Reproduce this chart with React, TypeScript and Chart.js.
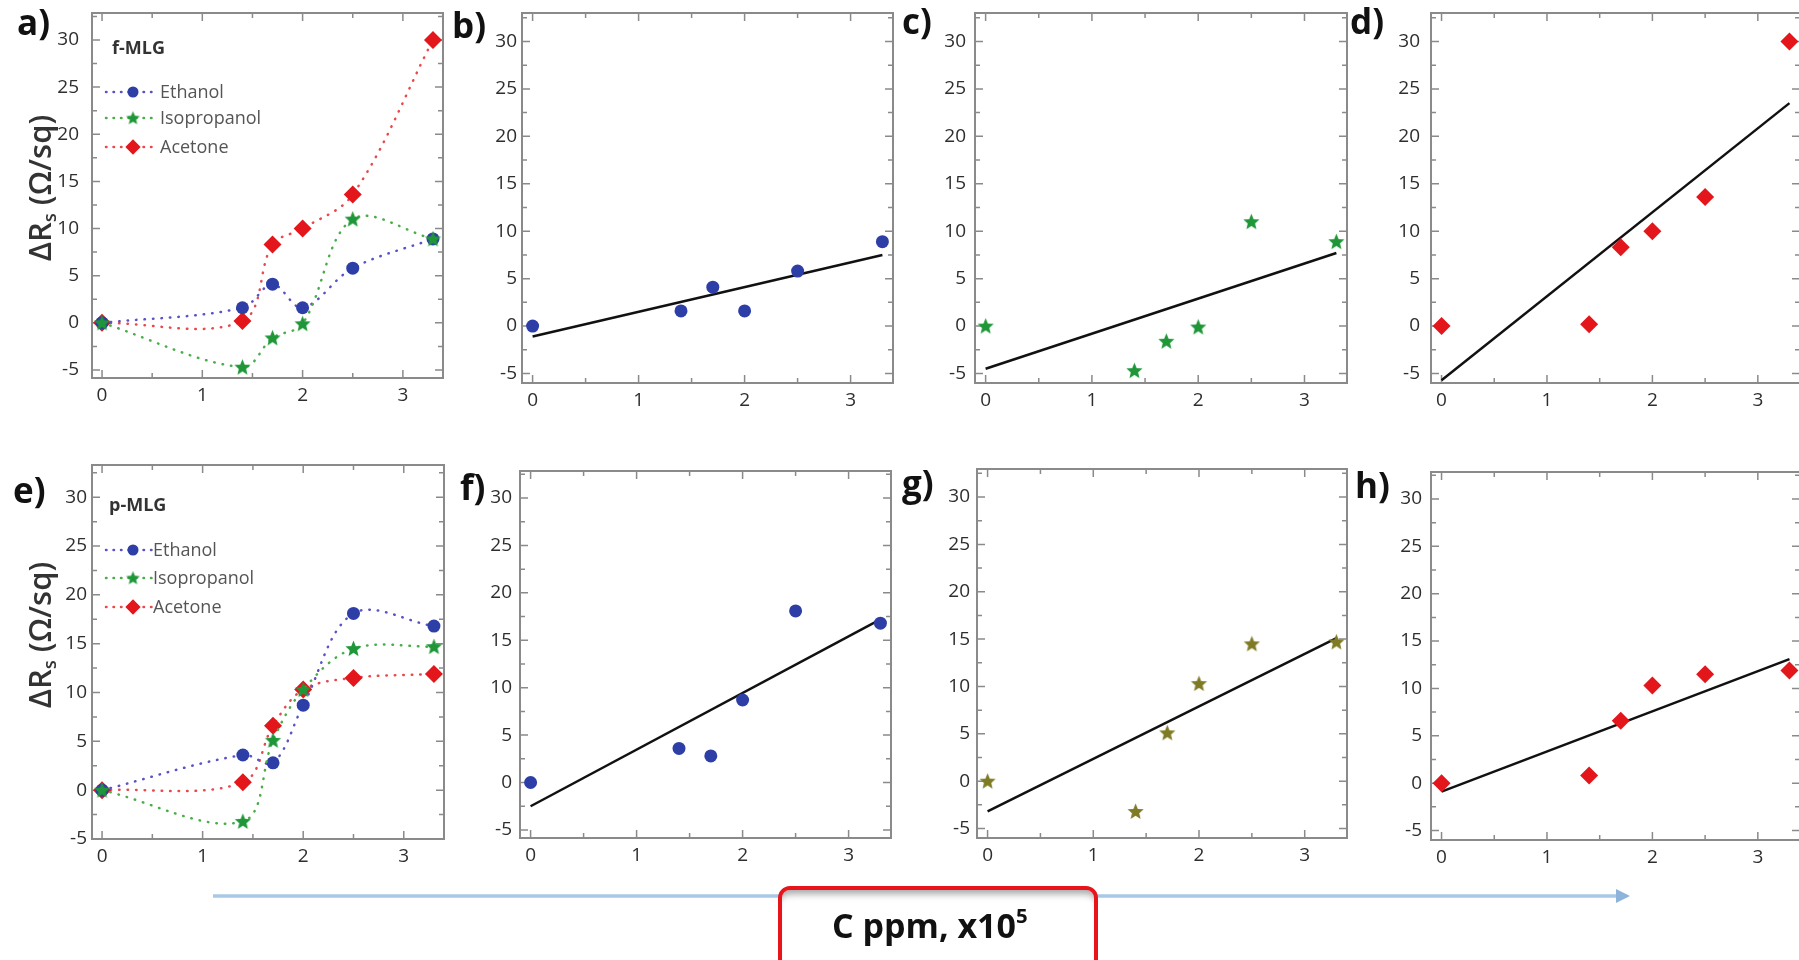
import React, { useEffect, useRef } from "react";
import { Chart, registerables } from "chart.js";

Chart.register(...registerables);
Chart.defaults.font.family = "'Open Sans', 'DejaVu Sans', sans-serif";
Chart.defaults.color = "#333";

// Concentration, C ppm x10^5
const CONCENTRATION = [0, 1.4, 1.7, 2.0, 2.5, 3.3];

// f-MLG, ΔRs (Ω/sq)
const F_MLG_ETHANOL = [0, 1.6, 4.1, 1.6, 5.8, 8.9];
const F_MLG_ISOPROPANOL = [0, -4.7, -1.6, -0.1, 11.0, 8.9];
const F_MLG_ACETONE = [0, 0.2, 8.3, 10.0, 13.6, 30.0];

// p-MLG, ΔRs (Ω/sq)
const P_MLG_ETHANOL = [0, 3.6, 2.8, 8.7, 18.1, 16.8];
const P_MLG_ISOPROPANOL = [0, -3.2, 5.1, 10.3, 14.5, 14.7];
const P_MLG_ACETONE = [0, 0.8, 6.6, 10.3, 11.5, 11.9];

// Linear fit lines (end points at FIT_X)
const FIT_X = [0, 3.3];
const FIT_B = [-1.1, 7.5];
const FIT_C = [-4.5, 7.7];
const FIT_D = [-5.7, 23.5];
const FIT_F = [-2.5, 17.2];
const FIT_G = [-3.2, 15.1];
const FIT_H = [-0.9, 13.1];

const X_TICKS = [0, 1, 2, 3];
const Y_TICKS = [-5, 0, 5, 10, 15, 20, 25, 30];
const SERIES_NAMES = ["Ethanol", "Isopropanol", "Acetone"];
const X_RANGE = [-0.1, 3.4];

// ---------- styling ----------
const Y_AXIS_W = 70;
const X_AXIS_H = 40;
const PAD_T = 20;
const PAD_R = 20;
const TICK_FONT = { size: 19 };

type Style = { kind: "circle" | "star" | "diamond"; color: string; line: string; size: number };
const STYLES: Record<string, Style> = {
  eth: { kind: "circle", color: "#2d3fa6", line: "#5b52c9", size: 6.5 },
  iso: { kind: "star", color: "#1f9638", line: "#4aad4a", size: 8.5 },
  ace: { kind: "diamond", color: "#e3161c", line: "#e8494d", size: 9 },
  olive: { kind: "star", color: "#7f7b25", line: "#7f7b25", size: 8.5 },
};

const starCache: Record<string, HTMLCanvasElement> = {};
function starCanvas(color: string, outer: number): HTMLCanvasElement {
  const key = color + outer;
  if (starCache[key]) return starCache[key];
  const size = Math.ceil(outer * 2 + 2);
  const c = document.createElement("canvas");
  c.width = size;
  c.height = size;
  const ctx = c.getContext("2d")!;
  ctx.fillStyle = color;
  ctx.beginPath();
  for (let i = 0; i < 10; i++) {
    const r = i % 2 === 0 ? outer : outer * 0.45;
    const a = -Math.PI / 2 + (i * Math.PI) / 5;
    const x = size / 2 + r * Math.cos(a);
    const y = size / 2 + r * Math.sin(a) + 0.5;
    if (i === 0) ctx.moveTo(x, y);
    else ctx.lineTo(x, y);
  }
  ctx.closePath();
  ctx.fill();
  starCache[key] = c;
  return c;
}

function pointProps(s: Style) {
  if (s.kind === "star") {
    return { pointStyle: starCanvas(s.color, s.size), pointRadius: s.size };
  }
  return { pointStyle: s.kind === "circle" ? "circle" : "rectRot", pointRadius: s.size };
}

function drawMarker(ctx: CanvasRenderingContext2D, s: Style, x: number, y: number) {
  ctx.fillStyle = s.color;
  if (s.kind === "circle") {
    ctx.beginPath();
    ctx.arc(x, y, s.size, 0, Math.PI * 2);
    ctx.fill();
  } else if (s.kind === "diamond") {
    ctx.beginPath();
    ctx.moveTo(x, y - s.size);
    ctx.lineTo(x + s.size, y);
    ctx.lineTo(x, y + s.size);
    ctx.lineTo(x - s.size, y);
    ctx.closePath();
    ctx.fill();
  } else {
    const img = starCanvas(s.color, s.size);
    ctx.drawImage(img, x - img.width / 2, y - img.height / 2);
  }
}

type Legend = { title: string; rows: number[]; titleX: number; textX: number };
type Panel = {
  letter: string;
  labelPos: [number, number];
  area: { l: number; t: number; r: number; b: number };
  yRange: [number, number];
  tickPad: number;
  multi?: { series: number[][]; legend: Legend };
  points?: number[];
  style?: string;
  fit?: number[];
};

const PANELS: Panel[] = [
  {
    letter: "a)", labelPos: [17, 35], area: { l: 92, t: 13, r: 443, b: 378 }, yRange: [-5.85, 32.86], tickPad: 13,
    multi: { series: [F_MLG_ETHANOL, F_MLG_ISOPROPANOL, F_MLG_ACETONE], legend: { title: "f-MLG", rows: [36, 79, 105, 134], titleX: 20, textX: 68 } },
  },
  { letter: "b)", labelPos: [452, 38], area: { l: 522, t: 13, r: 893, b: 383 }, yRange: [-6, 33], tickPad: 5, points: F_MLG_ETHANOL, style: "eth", fit: FIT_B },
  { letter: "c)", labelPos: [902, 34], area: { l: 975, t: 13, r: 1347, b: 383 }, yRange: [-6, 33], tickPad: 9, points: F_MLG_ISOPROPANOL, style: "iso", fit: FIT_C },
  { letter: "d)", labelPos: [1350, 34], area: { l: 1431, t: 13, r: 1800, b: 383 }, yRange: [-6, 33], tickPad: 11, points: F_MLG_ACETONE, style: "ace", fit: FIT_D },
  {
    letter: "e)", labelPos: [13, 503], area: { l: 92, t: 465, r: 444, b: 839 }, yRange: [-5, 33.3], tickPad: 5,
    multi: { series: [P_MLG_ETHANOL, P_MLG_ISOPROPANOL, P_MLG_ACETONE], legend: { title: "p-MLG", rows: [41, 85, 113, 142], titleX: 17, textX: 61 } },
  },
  { letter: "f)", labelPos: [460, 500], area: { l: 520, t: 471, r: 891, b: 838 }, yRange: [-5.85, 32.85], tickPad: 8, points: P_MLG_ETHANOL, style: "eth", fit: FIT_F },
  { letter: "g)", labelPos: [902, 496], area: { l: 977, t: 469, r: 1347, b: 838 }, yRange: [-6, 32.96], tickPad: 7, points: P_MLG_ISOPROPANOL, style: "olive", fit: FIT_G },
  { letter: "h)", labelPos: [1355, 498], area: { l: 1431, t: 472, r: 1800, b: 840 }, yRange: [-6, 32.85], tickPad: 9, points: P_MLG_ACETONE, style: "ace", fit: FIT_H },
];

const framePlugin = {
  id: "frame",
  beforeDatasetsDraw(chart: any) {
    const { ctx, chartArea, scales } = chart;
    const { left, right, top, bottom } = chartArea;
    const x = scales.x;
    const y = scales.y;
    ctx.save();
    ctx.strokeStyle = "#8a8a8a";
    ctx.lineWidth = 2;
    ctx.strokeRect(left, top, right - left, bottom - top);
    ctx.lineWidth = 1.5;
    ctx.beginPath();
    const xs: [number, number][] = [];
    X_TICKS.forEach((v) => {
      xs.push([v, 8]);
      xs.push([v + 0.5, 5]);
    });
    xs.forEach(([v, len]) => {
      if (v < x.min || v > x.max) return;
      const px = x.getPixelForValue(v);
      ctx.moveTo(px, bottom);
      ctx.lineTo(px, bottom - len);
      ctx.moveTo(px, top);
      ctx.lineTo(px, top + len);
    });
    const ys: [number, number][] = [];
    Y_TICKS.forEach((v) => {
      ys.push([v, 8]);
      ys.push([v + 2.5, 5]);
      ys.push([v - 2.5, 5]);
    });
    ys.forEach(([v, len]) => {
      if (v < y.min || v > y.max) return;
      const py = y.getPixelForValue(v);
      ctx.moveTo(left, py);
      ctx.lineTo(left + len, py);
      ctx.moveTo(right, py);
      ctx.lineTo(right - len, py);
    });
    ctx.stroke();
    ctx.restore();
  },
};

function legendPlugin(legend: Legend, styles: Style[]) {
  return {
    id: "customLegend",
    afterDatasetsDraw(chart: any) {
      const { ctx, chartArea } = chart;
      const { left, top } = chartArea;
      ctx.save();
      ctx.textBaseline = "middle";
      ctx.textAlign = "left";
      ctx.font = "bold 18px 'Open Sans'";
      ctx.fillStyle = "#333";
      ctx.fillText(legend.title, left + legend.titleX, top + legend.rows[0]);
      SERIES_NAMES.forEach((name, i) => {
        const s = styles[i];
        const yy = top + legend.rows[i + 1];
        ctx.strokeStyle = s.line;
        ctx.lineWidth = 2.5;
        ctx.lineCap = "round";
        ctx.setLineDash([0.5, 7]);
        ctx.beginPath();
        ctx.moveTo(left + 14, yy);
        ctx.lineTo(left + 60, yy);
        ctx.stroke();
        ctx.setLineDash([]);
        drawMarker(ctx, { ...s, size: s.size * 0.85 }, left + 41, yy);
        ctx.font = "18px 'Open Sans'";
        ctx.fillStyle = "#555";
        ctx.fillText(name, left + legend.textX, yy + 1);
      });
      ctx.restore();
    },
  };
}

function buildConfig(p: Panel): any {
  const datasets: any[] = [];
  const plugins: any[] = [framePlugin];
  if (p.multi) {
    const styles = [STYLES.eth, STYLES.iso, STYLES.ace];
    const orders = [1, 0, 2];
    p.multi.series.forEach((vals, i) => {
      const s = styles[i];
      datasets.push({
        label: SERIES_NAMES[i],
        data: CONCENTRATION.map((x, k) => ({ x, y: vals[k] })),
        showLine: true,
        borderColor: s.line,
        borderWidth: 2.5,
        borderDash: [0.5, 8],
        borderCapStyle: "round",
        tension: 0.35,
        backgroundColor: s.color,
        pointBackgroundColor: s.color,
        pointBorderColor: s.color,
        pointBorderWidth: 0,
        ...pointProps(s),
        order: orders[i],
        clip: false,
      });
    });
    plugins.push(legendPlugin(p.multi.legend, styles));
  } else if (p.points && p.fit && p.style) {
    const s = STYLES[p.style];
    datasets.push({
      label: "points",
      data: CONCENTRATION.map((x, k) => ({ x, y: p.points![k] })),
      showLine: false,
      backgroundColor: s.color,
      pointBackgroundColor: s.color,
      pointBorderColor: s.color,
      pointBorderWidth: 0,
      ...pointProps(s),
      order: 0,
      clip: false,
    });
    datasets.push({
      label: "fit",
      data: FIT_X.map((x, k) => ({ x, y: p.fit![k] })),
      showLine: true,
      borderColor: "#111",
      borderWidth: 2.5,
      pointRadius: 0,
      order: 1,
      clip: false,
    });
  }
  return {
    type: "scatter",
    data: { datasets },
    plugins,
    options: {
      responsive: false,
      animation: false,
      events: [],
      layout: { padding: { top: PAD_T, right: PAD_R, left: 0, bottom: 0 } },
      plugins: { legend: { display: false }, tooltip: { enabled: false } },
      scales: {
        x: {
          type: "linear",
          min: X_RANGE[0],
          max: X_RANGE[1],
          grid: { display: false, drawTicks: false },
          border: { display: false },
          ticks: { font: TICK_FONT, color: "#2e2e2e", padding: 6, autoSkip: false, maxRotation: 0 },
          afterBuildTicks: (s: any) => {
            s.ticks = X_TICKS.map((v) => ({ value: v }));
          },
          afterFit: (s: any) => {
            s.height = X_AXIS_H;
            s.paddingLeft = 0;
            s.paddingRight = 0;
          },
        },
        y: {
          type: "linear",
          min: p.yRange[0],
          max: p.yRange[1],
          grid: { display: false, drawTicks: false },
          border: { display: false },
          ticks: { font: TICK_FONT, color: "#2e2e2e", padding: p.tickPad, autoSkip: false },
          afterBuildTicks: (s: any) => {
            s.ticks = Y_TICKS.map((v) => ({ value: v }));
          },
          afterFit: (s: any) => {
            s.width = Y_AXIS_W;
            s.paddingTop = 0;
            s.paddingBottom = 0;
          },
        },
      },
    },
  };
}

function PanelChart({ p }: { p: Panel }) {
  const ref = useRef<HTMLCanvasElement | null>(null);
  const { l, t, r, b } = p.area;
  const w = r - l + Y_AXIS_W + PAD_R;
  const h = b - t + PAD_T + X_AXIS_H;
  useEffect(() => {
    if (!ref.current) return;
    const chart = new Chart(ref.current, buildConfig(p));
    return () => chart.destroy();
  }, []);
  return (
    <canvas
      ref={ref}
      width={w}
      height={h}
      style={{ position: "absolute", left: l - Y_AXIS_W, top: t - PAD_T, width: w, height: h }}
    />
  );
}

const letterStyle: React.CSSProperties = {
  position: "absolute",
  fontFamily: "'Open Sans', sans-serif",
  fontWeight: 700,
  fontSize: 35,
  lineHeight: 1,
  color: "#111",
  whiteSpace: "nowrap",
};

function YTitle({ cx, cy }: { cx: number; cy: number }) {
  return (
    <div
      style={{
        position: "absolute",
        left: cx,
        top: cy,
        transform: "translate(-50%, -50%) rotate(-90deg)",
        fontFamily: "'Open Sans', sans-serif",
        fontWeight: 600,
        fontSize: 31,
        lineHeight: 1,
        color: "#333",
        whiteSpace: "nowrap",
      }}
    >
      ΔR<sub style={{ fontSize: "0.6em", verticalAlign: "-0.25em" }}>s</sub> (Ω/sq)
    </div>
  );
}

export default function App() {
  return (
    <div
      style={{ position: "fixed", left: 0, top: 0, width: 1799, height: 960, overflow: "hidden", background: "#fff" }}
    >
      {PANELS.map((p) => (
        <PanelChart key={p.letter} p={p} />
      ))}
      {PANELS.map((p) => (
        <div key={"l" + p.letter} style={{ ...letterStyle, left: p.labelPos[0], top: p.labelPos[1] - 31 }}>
          {p.letter}
        </div>
      ))}
      <YTitle cx={41} cy={188} />
      <YTitle cx={41} cy={635} />
      <svg width={1799} height={960} style={{ position: "absolute", left: 0, top: 0, pointerEvents: "none" }}>
        <line x1={213} y1={896} x2={1618} y2={896} stroke="#a9c8e6" strokeWidth={3.5} />
        <polygon points="1616,889 1630,896 1616,903" fill="#8fb4dc" />
      </svg>
      <div
        style={{
          position: "absolute",
          left: 778,
          top: 886,
          width: 312,
          height: 90,
          border: "4px solid #e8141c",
          borderRadius: 12,
          background: "#fff",
          boxShadow: "inset 0 9px 7px -5px rgba(0,0,0,0.35)",
        }}
      />
      <div
        style={{
          position: "absolute",
          left: 832,
          top: 908,
          fontFamily: "'Open Sans', sans-serif",
          fontWeight: 700,
          fontSize: 34,
          lineHeight: 1,
          letterSpacing: 0,
          color: "#111",
          whiteSpace: "nowrap",
        }}
      >
        C ppm, x10<sup style={{ fontSize: "0.6em", verticalAlign: "0.75em", lineHeight: 0 }}>5</sup>
      </div>
    </div>
  );
}
